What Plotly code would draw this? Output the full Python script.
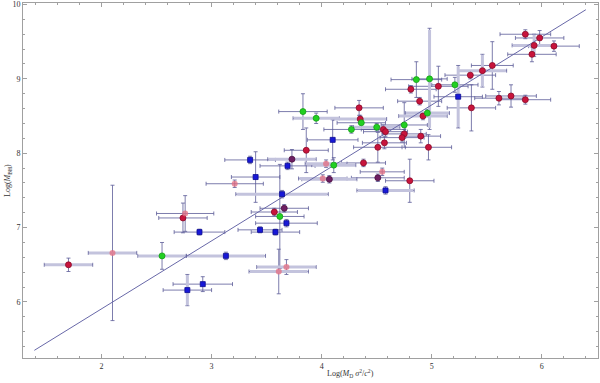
import plotly.graph_objects as go

# ---- data ----
red_x = [1.70, 2.74, 3.57, 3.86, 4.34, 4.35, 4.56, 4.58, 4.75, 4.73, 4.90, 4.57, 4.51, 4.97, 4.38, 4.80,
         4.89, 4.92, 4.81, 5.06, 5.35, 5.46, 5.55, 5.36, 5.61, 5.72, 5.85, 5.91, 5.93, 5.85, 5.98, 6.11]
red_y = [6.50, 7.13, 7.21, 8.04, 8.61, 8.46, 8.32, 8.29, 8.26, 8.21, 8.23, 8.14, 8.08, 8.08, 7.87, 7.63,
         8.70, 8.50, 8.86, 8.90, 9.05, 9.11, 9.18, 8.61, 8.74, 8.77, 8.72, 9.33, 9.45, 9.60, 9.55, 9.44]
red_ex = [0.22, 0.22, 0.21, 0.20, 0.22, 0.24, 0.20, 0.20, 0.20, 0.20, 0.18, 0.20, 0.22, 0.21, 0.20, 0.22,
          0.20, 0.22, 0.23, 0.27, 0.23, 0.22, 0.19, 0.22, 0.22, 0.23, 0.23, 0.22, 0.20, 0.23, 0.22, 0.23]
red_ey = [0.09, 0.20, 0.05, 0.30, 0.10, 0.05, 0.06, 0.06, 0.06, 0.06, 0.09, 0.08, 0.20, 0.17, 0.05, 0.29,
          0.05, 0.05, 0.05, 0.27, 0.05, 0.22, 0.32, 0.31, 0.09, 0.15, 0.06, 0.10, 0.15, 0.06, 0.10, 0.07]
red_xl = [1, 0, 0, 0, 0, 1, 0, 0, 0, 0, 0, 0, 0, 0, 0, 0,
          0, 1, 0, 0, 0, 1, 0, 0, 0, 0, 0, 0, 1, 0, 0, 0]
red_yl = [0, 0, 0, 0, 0, 0, 0, 0, 0, 0, 0, 0, 0, 0, 0, 0,
          0, 0, 0, 0, 0, 1, 0, 0, 0, 0, 0, 0, 1, 0, 0, 0]

pink_x = [2.10, 2.76, 3.21, 3.61, 3.68, 4.04, 4.01, 4.55]
pink_y = [6.66, 7.19, 7.59, 6.41, 6.47, 7.86, 7.66, 7.75]
pink_ex = [0.22, 0.26, 0.26, 0.27, 0.27, 0.19, 0.22, 0.20]
pink_ey = [0.91, 0.24, 0.05, 0.30, 0.10, 0.05, 0.05, 0.05]
pink_xl = [1, 0, 0, 1, 1, 1, 1, 0]
pink_yl = [0, 0, 0, 0, 0, 0, 0, 0]

green_x = [2.55, 3.62, 3.83, 3.95, 4.11, 4.36, 4.27, 4.50, 4.75, 4.96, 4.86, 4.98, 5.21]
green_y = [6.62, 7.15, 8.56, 8.47, 7.84, 8.41, 8.32, 8.35, 8.38, 8.54, 8.99, 9.00, 8.92]
green_ex = [0.22, 0.22, 0.22, 0.21, 0.20, 0.22, 0.25, 0.21, 0.21, 0.20, 0.23, 0.16, 0.21]
green_ey = [0.18, 0.70, 0.24, 0.07, 0.10, 0.05, 0.05, 0.05, 0.30, 0.05, 0.24, 0.68, 0.10]
green_xl = [1, 0, 0, 1, 1, 0, 0, 1, 0, 1, 0, 0, 0]
green_yl = [0, 0, 0, 0, 0, 0, 0, 0, 0, 0, 0, 1, 0]

blue_x = [2.78, 2.92, 2.89, 3.13, 3.44, 3.58, 3.68, 3.64, 3.40, 3.35, 3.69, 4.10, 4.58, 5.24]
blue_y = [6.16, 6.24, 6.94, 6.62, 6.97, 6.94, 7.06, 7.45, 7.68, 7.91, 7.83, 8.18, 7.50, 8.76]
blue_ex = [0.22, 0.27, 0.23, 0.36, 0.20, 0.22, 0.28, 0.42, 0.22, 0.23, 0.25, 0.23, 0.26, 0.22]
blue_ey = [0.21, 0.10, 0.04, 0.05, 0.04, 0.04, 0.05, 0.05, 0.34, 0.05, 0.05, 0.27, 0.05, 0.42]
blue_xl = [0, 0, 0, 1, 0, 0, 0, 1, 0, 0, 0, 0, 1, 0]
blue_yl = [1, 0, 0, 0, 0, 0, 0, 0, 0, 0, 0, 0, 0, 1]

purple_x = [3.73, 3.66, 4.07, 4.51]
purple_y = [7.92, 7.26, 7.65, 7.67]
purple_ex = [0.22, 0.22, 0.25, 0.24]
purple_ey = [0.13, 0.05, 0.05, 0.05]
purple_xl = [1, 0, 1, 0]
purple_yl = [0, 0, 0, 0]

line_x = [1.39, 6.40]
line_y = [5.35, 9.93]

DARK = "#5c5c98"
LIGHT = "#c3c3dd"

groups = [
    (red_x, red_y, red_ex, red_ey, red_xl, red_yl,
     dict(symbol="circle", size=6, color="#c8143c", line=dict(color="#8a0a28", width=0.8))),
    (pink_x, pink_y, pink_ex, pink_ey, pink_xl, pink_yl,
     dict(symbol="circle", size=6, color="rgba(228,110,130,0.75)", line=dict(width=0))),
    (green_x, green_y, green_ex, green_ey, green_xl, green_yl,
     dict(symbol="circle", size=6, color="#22d022", line=dict(color="#14a014", width=0.8))),
    (blue_x, blue_y, blue_ex, blue_ey, blue_xl, blue_yl,
     dict(symbol="square", size=5, color="#1818d8", line=dict(color="#0a0a90", width=0.8))),
    (purple_x, purple_y, purple_ex, purple_ey, purple_xl, purple_yl,
     dict(symbol="circle", size=6, color="#6e1e62", line=dict(color="#4a1040", width=0.8))),
]

fig = go.Figure()

# error bars: thin dark bars with caps, light thick overlays for some points
for xs, ys, ex, ey, xl, yl, mk in groups:
    fig.add_trace(go.Scatter(
        x=xs, y=ys, mode="markers", marker=dict(size=1, opacity=0), hoverinfo="skip",
        error_x=dict(type="data", array=ex, color=DARK, thickness=0.8, width=2),
        error_y=dict(type="data", array=ey, color=DARK, thickness=0.8, width=2),
        showlegend=False))
for xs, ys, ex, ey, xl, yl, mk in groups:
    ix = [i for i in range(len(xs)) if xl[i]]
    if ix:
        fig.add_trace(go.Scatter(
            x=[xs[i] for i in ix], y=[ys[i] for i in ix], mode="markers",
            marker=dict(size=1, opacity=0), hoverinfo="skip",
            error_x=dict(type="data", array=[ex[i] * 0.97 for i in ix], color=LIGHT, thickness=3, width=0),
            showlegend=False))
    iy = [i for i in range(len(xs)) if yl[i]]
    if iy:
        fig.add_trace(go.Scatter(
            x=[xs[i] for i in iy], y=[ys[i] for i in iy], mode="markers",
            marker=dict(size=1, opacity=0), hoverinfo="skip",
            error_y=dict(type="data", array=[ey[i] * 0.97 for i in iy], color=LIGHT, thickness=3, width=0),
            showlegend=False))

fig.add_trace(go.Scatter(x=line_x, y=line_y, mode="lines",
                         line=dict(color="#6868a8", width=1), showlegend=False))

for xs, ys, ex, ey, xl, yl, mk in groups:
    fig.add_trace(go.Scatter(x=xs, y=ys, mode="markers", marker=mk, showlegend=False))

axis_common = dict(
    showgrid=False, zeroline=False, showline=True, mirror="ticks", automargin=False,
    linecolor="#a0a0a0", linewidth=1, ticks="inside", ticklen=4, tickcolor="#a0a0a0",
    tickfont=dict(family="Liberation Serif", size=8, color="#333"),
    minor=dict(ticks="inside", ticklen=2, dtick=0.2, tickcolor="#a0a0a0"),
)
fig.update_xaxes(range=[1.287, 6.51], tickvals=[2, 3, 4, 5, 6], **axis_common)
fig.update_yaxes(range=[5.247, 10.02], tickvals=[6, 7, 8, 9, 10], **axis_common)

fig.update_layout(
    width=600, height=383,
    margin=dict(l=23, r=2, t=3, b=25),
    plot_bgcolor="white", paper_bgcolor="white",
    font=dict(family="Liberation Serif", size=8, color="#333"),
    showlegend=False,
    annotations=[
        dict(text="Log(<i>M</i><sub>D</sub> <i>σ</i><sup>2</sup>/<i>c</i><sup>2</sup>)",
             xref="paper", yref="paper", x=0.57, y=-0.066, yanchor="bottom",
             showarrow=False, font=dict(family="Liberation Serif", size=8, color="#333")),
        dict(text="Log(<i>M</i><sub>BH</sub>)", textangle=-90,
             xref="paper", yref="paper", x=-0.027, y=0.5, xanchor="center",
             showarrow=False, font=dict(family="Liberation Serif", size=8, color="#333")),
    ],
)

# drop the default page margin so the 600x383 figure fills the window
fig.write_html("out.html", config={"displayModeBar": False},
               post_script="document.body.style.margin='0';")
